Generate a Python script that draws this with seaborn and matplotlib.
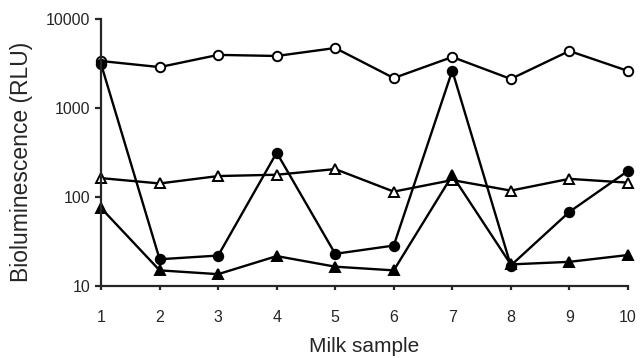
# third-party
import pandas as pd
import seaborn as sns
import matplotlib.pyplot as plt


samples = [1, 2, 3, 4, 5, 6, 7, 8, 9, 10]

# four series (RLU, log axis)
open_circle = [3370, 2880, 3950, 3840, 4720, 2170, 3740, 2120, 4370, 2610]
filled_circle = [3100, 20, 22, 315, 23, 28.5, 2630, 17, 68, 196]
open_triangle = [163, 142, 172, 178, 206, 115, 155, 118, 160, 145]
filled_triangle = [75, 15, 13.6, 21.7, 16.5, 15, 175, 17.5, 18.7, 22.3]

ytick_vals = [10, 100, 1000, 10000]
ytick_labels = ['10', '100', '1000', '10000']

df = pd.DataFrame({
    'sample': samples,
    'open_circle': open_circle,
    'filled_circle': filled_circle,
    'open_triangle': open_triangle,
    'filled_triangle': filled_triangle,
})

sns.set_style('ticks')
plt.rcParams['font.family'] = ['Liberation Sans', 'DejaVu Sans']

fig = plt.figure(figsize=(6.4, 3.58), dpi=100)
ax = fig.add_axes([0.158, 0.201, 0.823, 0.746])

styles = [
    ('open_circle', 'o', 'white'),
    ('filled_circle', 'o', 'black'),
    ('open_triangle', '^', 'white'),
    ('filled_triangle', '^', 'black'),
]
for col, mk, face in styles:
    sns.lineplot(
        data=df, x='sample', y=col, ax=ax, color='black', linewidth=1.7,
        marker=mk, markersize=6.8, markerfacecolor=face,
        markeredgecolor='black', markeredgewidth=1.4, clip_on=False,
    )

ax.set_yscale('log')
ax.set_ylim(10, 10000)
ax.set_xlim(1, 10)
ax.set_yticks(ytick_vals)
ax.set_yticklabels(ytick_labels)
ax.minorticks_off()
ax.set_xticks(samples)
ax.set_xticklabels([str(s) for s in samples])

sns.despine(ax=ax)
for side in ['left', 'bottom']:
    ax.spines[side].set_linewidth(1.6)

ax.tick_params(axis='y', length=4, width=1.6, pad=4, labelsize=11.5)
ax.tick_params(axis='x', length=3, width=1.6, pad=14, labelsize=11.5)

ax.set_xlabel('Milk sample', fontsize=15, labelpad=9)
ax.set_ylabel('Bioluminescence (RLU)', fontsize=16.5, labelpad=9)
ax.yaxis.label.set_y(0.464)

plt.savefig('out.png', dpi=100)
